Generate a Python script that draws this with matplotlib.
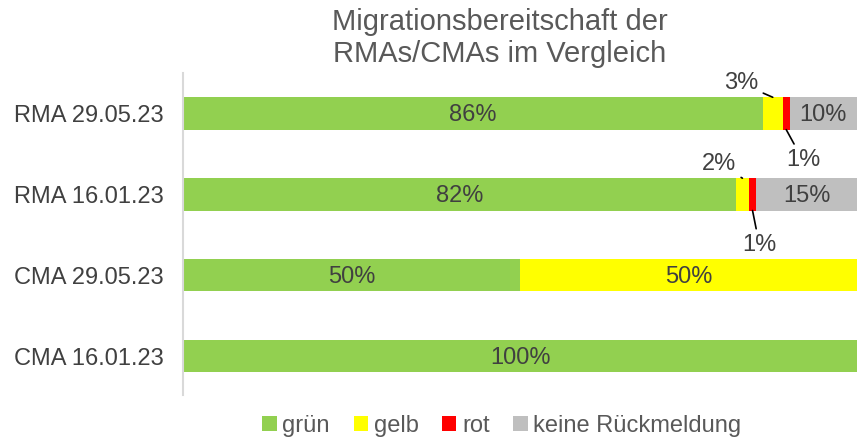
import numpy as np
import matplotlib.pyplot as plt

plt.rcParams['font.family'] = ['Liberation Sans', 'DejaVu Sans']

categories = ["RMA 29.05.23", "RMA 16.01.23", "CMA 29.05.23", "CMA 16.01.23"]
series = ["grün", "gelb", "rot", "keine Rückmeldung"]
gruen = [86, 82, 50, 100]
gelb = [3, 2, 50, 0]
rot = [1, 1, 0, 0]
keine = [10, 15, 0, 0]
colors = ["#92D050", "#FFFF00", "#FF0000", "#BFBFBF"]

values = np.array([gruen, gelb, rot, keine]) / 100.0
text_col = "#404040"

fig = plt.figure(figsize=(8.57, 4.38), dpi=100)
ax = fig.add_axes([183 / 857, 43 / 438, 674 / 857, 322 / 438])

y = np.arange(len(categories))
left = np.zeros(len(categories))
for i, name in enumerate(series):
    ax.barh(y, values[i], left=left, height=0.4, color=colors[i], label=name)
    for j in range(len(categories)):
        v = values[i, j]
        if v >= 0.1:
            ax.text(left[j] + v / 2, y[j] + 0.02, "%d%%" % round(v * 100),
                    ha="center", va="center", fontsize=17, color=text_col)
    left += values[i]

# small segments get callouts outside the bar
callouts = [
    # (series index, category index, side, offset in points)
    (1, 0, -1, (-23, 10)),
    (2, 0, 1, (12, -22)),
    (1, 1, -1, (-17, 10)),
    (2, 1, 1, (5, -25)),
]
for si, ci, side, off in callouts:
    start = values[:si, ci].sum()
    xc = start + values[si, ci] / 2
    ax.annotate("%d%%" % round(values[si, ci] * 100), xy=(xc, y[ci] + side * 0.2),
                xytext=off, textcoords="offset points", ha="center", va="center",
                fontsize=17, color=text_col,
                arrowprops=dict(arrowstyle="-", color="black", lw=1.2,
                                shrinkA=2, shrinkB=0))

ax.set_xlim(0, 1)
ax.set_ylim(3.48, -0.5)
ax.set_yticks(y)
ax.set_yticklabels(categories, fontsize=17, color=text_col)
ax.set_xticks([])
ax.tick_params(axis="y", length=0, pad=14)
for s in ["top", "right", "bottom"]:
    ax.spines[s].set_visible(False)
ax.spines["left"].set_color("#D9D9D9")
ax.spines["left"].set_linewidth(1.5)

fig.text(500 / 857, 1 - 38 / 438, "Migrationsbereitschaft der\nRMAs/CMAs im Vergleich",
         ha="center", va="center", fontsize=21, color="#595959", linespacing=1.2)

fig.legend(loc="center", bbox_to_anchor=(502 / 857, 1 - 426 / 438), ncol=4,
           frameon=False, fontsize=17, handlelength=0.6, handleheight=0.6,
           handletextpad=0.25, columnspacing=1.0, labelcolor="#595959")

fig.savefig("out.png", dpi=100)
